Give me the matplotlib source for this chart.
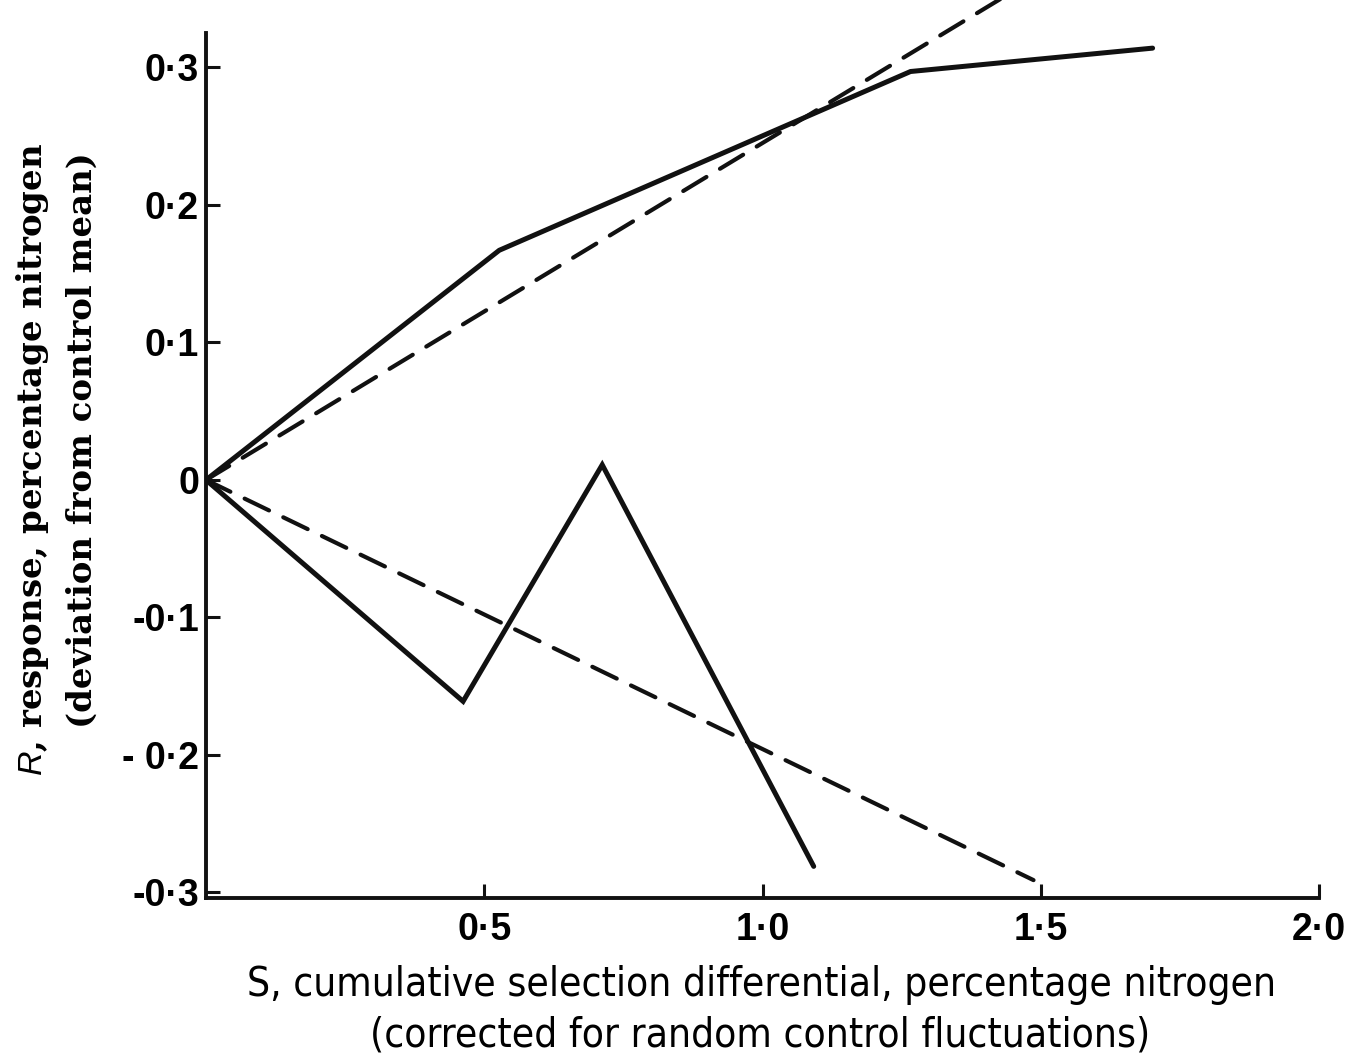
import matplotlib
matplotlib.use("Agg")
import matplotlib.pyplot as plt

# Data
upper_solid_x = [0.0, 0.527, 1.266, 1.701]
upper_solid_y = [0.0, 0.167, 0.297, 0.314]
upper_dashed_x = [0.0, 1.5]
upper_dashed_y = [0.0, 0.3675]
lower_solid_x = [0.0, 0.462, 0.712, 1.092]
lower_solid_y = [0.0, -0.161, 0.011, -0.281]
lower_dashed_x = [0.0, 1.487]
lower_dashed_y = [0.0, -0.291]

x_ticks = [0.5, 1.0, 1.5, 2.0]
x_ticklabels = ["0·5", "1·0", "1·5", "2·0"]
y_ticks = [0.3, 0.2, 0.1, 0.0, -0.1, -0.2, -0.3]
y_ticklabels = ["0·3", "0·2", "0·1", "0", "-0·1", "- 0·2", "-0·3"]

W, H = 1349, 1060
fig = plt.figure(figsize=(W / 100, H / 100), dpi=100)
ax = fig.add_axes([206 / W, 1 - 898 / H, (1319 - 206) / W, 898 / H])
ax.set_xlim(0, 2.0)
ax.set_ylim(-0.304, 0.349)

ax.plot(upper_solid_x, upper_solid_y, color="#111111", lw=3.6, solid_joinstyle="miter", solid_capstyle="round")
ax.plot(lower_solid_x, lower_solid_y, color="#111111", lw=3.6, solid_joinstyle="miter", solid_capstyle="round")
ax.plot(upper_dashed_x, upper_dashed_y, color="#111111", lw=3.0, linestyle=(0, (6.5, 3.8)), dash_capstyle="round")
ax.plot(lower_dashed_x, lower_dashed_y, color="#111111", lw=3.0, linestyle=(0, (6.5, 3.8)), dash_capstyle="round")

for s in ["top", "right"]:
    ax.spines[s].set_visible(False)
for s in ["left", "bottom"]:
    ax.spines[s].set_linewidth(2.8)
    ax.spines[s].set_color("#111111")
ax.spines["left"].set_bounds(-0.304, 0.325)

tick_font = dict(family=["Liberation Sans", "DejaVu Sans"], weight="bold", size=27)
ax.set_xticks(x_ticks)
ax.set_xticklabels(x_ticklabels, fontdict=tick_font)
ax.set_yticks(y_ticks)
ax.set_yticklabels(y_ticklabels, fontdict=tick_font)
ax.tick_params(axis="both", direction="in", length=10, width=2.2, color="#111111")
ax.tick_params(axis="x", pad=10)
ax.tick_params(axis="y", pad=5)

plt.rcParams["mathtext.fontset"] = "custom"
plt.rcParams["mathtext.it"] = "Liberation Sans:italic"

ylab_font = dict(family=["DejaVu Serif"], weight="bold", size=24.5)
fig.text(33 / W, 1 - 459 / H, r"$\mathit{R}$, response, percentage nitrogen",
         rotation=90, ha="center", va="center", **ylab_font)
fig.text(82 / W, 1 - 440 / H, "(deviation from control mean)",
         rotation=90, ha="center", va="center", **ylab_font)

xlab_font = dict(family=["DejaVu Sans"], stretch="condensed", weight="normal", size=29.2)
fig.text(762 / W, 1 - 985 / H, "S, cumulative selection differential, percentage nitrogen",
         ha="center", va="center", **xlab_font)
fig.text(760 / W, 1 - 1035 / H, "(corrected for random control fluctuations)",
         ha="center", va="center", **xlab_font)

fig.savefig("out.png", dpi=100, facecolor="white")
